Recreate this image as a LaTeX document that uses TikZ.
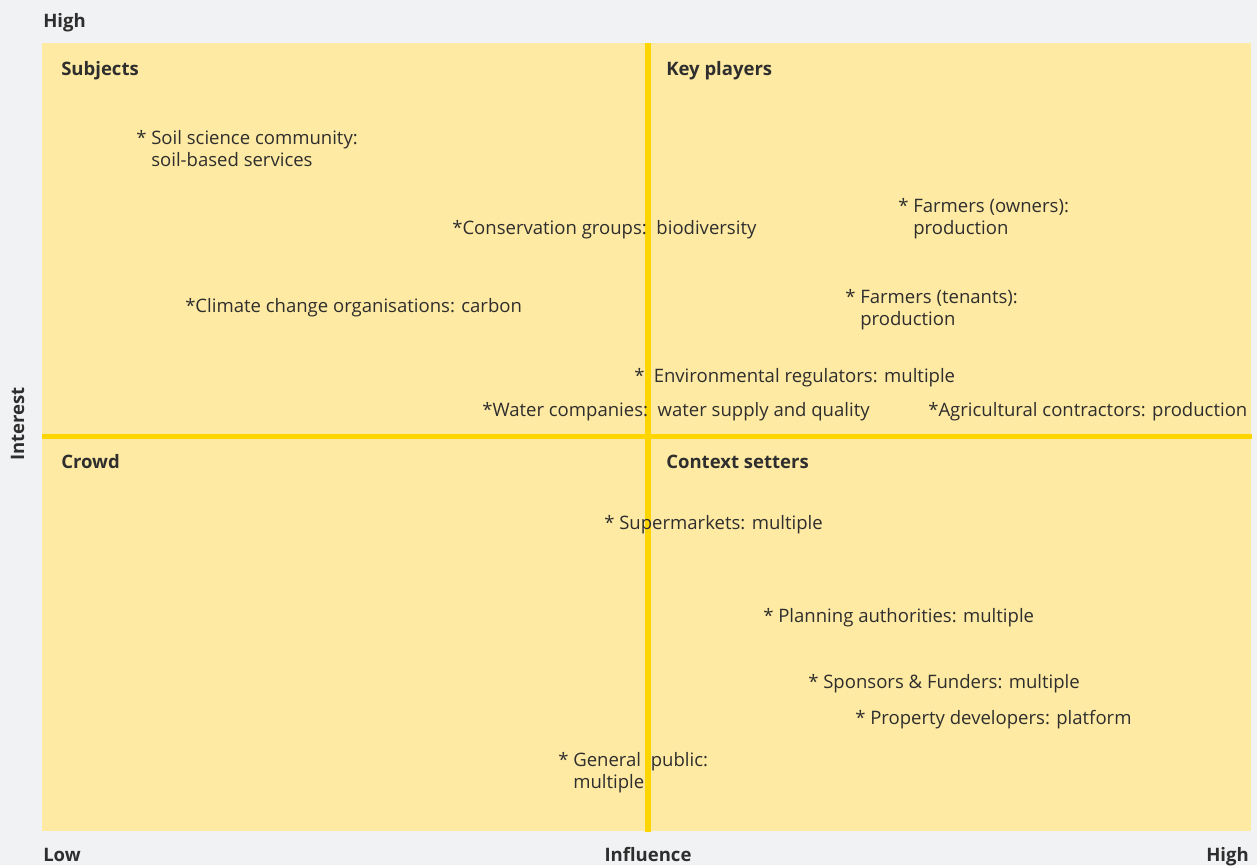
\documentclass[tikz,border=0pt]{standalone}
\usepackage{fontspec}
\setmainfont{Open Sans}
\definecolor{bgc}{HTML}{F1F2F4}
\definecolor{quad}{HTML}{FFEAA3}
\definecolor{axisl}{HTML}{FFD500}
\definecolor{txt}{HTML}{2E2E2E}
\begin{document}
\begin{tikzpicture}[x=0.75pt,y=-0.75pt,
  lbl/.style={anchor=base west,inner sep=0pt,text=txt,font=\fontsize{13.9pt}{16.5pt}\selectfont,align=left},
  hdr/.style={anchor=base west,inner sep=0pt,text=txt,font=\fontsize{13.9pt}{16.5pt}\selectfont\bfseries},
  axl/.style={inner sep=0pt,text=txt,font=\fontsize{13.9pt}{16.5pt}\selectfont\bfseries}]
\fill[bgc] (0,0) rectangle (1257,865);
\useasboundingbox (0,0) rectangle (1257,865);
\fill[quad] (42,43) rectangle (1251,831);
\coordinate (vt) at (648,43);
\coordinate (vb) at (648,832);
\coordinate (hl) at (42,436.5);
\coordinate (hr) at (1252,436.5);
\draw[axisl,line width=4.5pt] (vt) -- (vb);
\draw[axisl,line width=3.75pt] (hl) -- (hr);
% axis labels
\node[axl,anchor=base west] (hightop) at (43,27) {High};
\node[axl,anchor=base west] (low) at (43,861) {Low};
\node[axl,anchor=base] (infl) at (648,861) {Influence};
\node[axl,anchor=base east] (highr) at (1249,861) {High};
\node[axl,rotate=90,anchor=base] (inter) at (24,424) {Interest};
% quadrant headers
\node[hdr] (subj) at (61,75) {Subjects};
\node[hdr] (keyp) at (666,75) {Key players};
\node[hdr] (crowd) at (61,468) {Crowd};
\node[hdr] (ctx) at (666,468) {Context setters};
% stakeholders
\node[lbl] (soil) at (136,166) {* Soil science community:\\\hphantom{*\ }soil-based services};
\node[lbl] (cons) at (452,234) {*Conservation groups:\ \ biodiversity};
\node[lbl] (fown) at (898,234) {* Farmers (owners):\\\hphantom{*\ }production};
\node[lbl] (clim) at (185,312) {*Climate change organisations: carbon};
\node[lbl] (ften) at (845,325) {* Farmers (tenants):\\\hphantom{*\ }production};
\node[lbl] (envr) at (634,382) {*\hspace{0.5em}Environmental regulators: multiple};
\node[lbl] (water) at (482,416) {*Water companies:\ \ water supply and quality};
\node[lbl] (agri) at (928,416) {*Agricultural contractors: production};
\node[lbl] (super) at (604,529) {* Supermarkets: multiple};
\node[lbl] (plan) at (763,622) {* Planning authorities: multiple};
\node[lbl] (spons) at (808,688) {* Sponsors \& Funders: multiple};
\node[lbl] (prop) at (855,724) {* Property developers: platform};
\node[lbl] (gpub) at (558,788) {* General\ \ public:\\\hphantom{*\ }multiple};
\end{tikzpicture}
\end{document}
